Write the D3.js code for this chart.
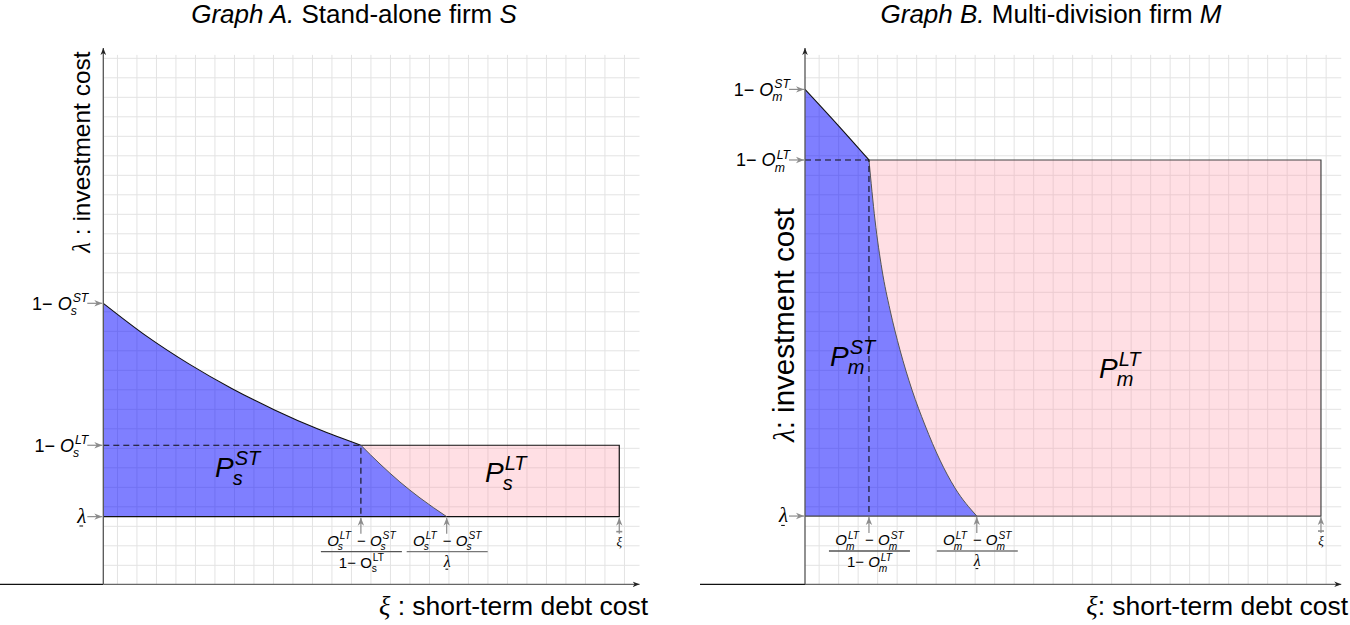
<!DOCTYPE html>
<html>
<head>
<meta charset="utf-8">
<script src="https://cdn.jsdelivr.net/npm/d3@7"></script>
<style>
  body { margin: 0; background: #fff; }
  svg { display: block; font-family: "Liberation Sans", Arial, Helvetica, sans-serif; }
  svg text { white-space: pre; }
  .grid line { stroke: #e3e3e3; stroke-width: 1; }
  .grid .domain { display: none; }
  .greek { font-family: "Liberation Serif", "DejaVu Serif", serif; font-style: italic; }
</style>
</head>
<body>
<div id="chart"></div>
<script>
// all values in grid steps, origin where the two axes cross
const xiBar = 26.46;

// [lambda, 1 - O^LT, 1 - O^ST]
const levelsS = [3.47, 7.13, 14.41];
const levelsM = [3.5, 21.76, 25.38];

// boundary of the P^ST region
const curveS_ST = [[0, 14.41], [2.2, 12.74], [4.41, 11.29], [6.61, 10.03], [8.81, 8.93], [11.01, 7.96], [13.21, 7.13]];
const curveS_LT = [[13.21, 7.13], [14.19, 6.17], [15.21, 5.25], [16.24, 4.43], [17.61, 3.47]];
const curveM_ST = [[0, 25.38], [1.64, 23.6], [3.28, 21.76]];
const curveM_LT = [[3.28, 21.76], [3.59, 18.68], [3.95, 16.12], [4.36, 14.07], [4.87, 12.02], [5.49, 9.96],
                   [6.15, 8.17], [6.92, 6.37], [7.69, 4.94], [8.81, 3.5]];

const titles = [["Graph A.", " Stand-alone firm ", "S"], ["Graph B.", " Multi-division firm ", "M"]];
const yTitles = [" : investment cost", ": investment cost"];
const xTitles = [" : short-term debt cost", ": short-term debt cost"];
const firmIdx = ["s", "m"];

const gridX = d3.range(0.7, 27, 1);
const gridY = d3.range(1, 28, 1);

const W = 1350, H = 625, UNIT = 19.5, BASE = 584.3, TOP = 27.5;
const NB = "\u00a0";

const svg = d3.select("#chart").append("svg")
    .attr("width", W).attr("height", H);

const defs = svg.append("defs");
function marker(id, color, size) {
    defs.append("marker")
        .attr("id", id)
        .attr("viewBox", "0 0 10 10")
        .attr("refX", 10).attr("refY", 5)
        .attr("markerWidth", size).attr("markerHeight", size)
        .attr("markerUnits", "userSpaceOnUse")
        .attr("orient", "auto")
        .append("path")
        .attr("d", "M0,1 L10,5 L0,9 L3,5 Z")
        .attr("fill", color);
}
marker("ah-black", "#222", 7);
marker("ah-gray", "#8c8c8c", 8);

// text with stacked super/subscripts, like O_s^ST
function mathText(g, x, y, parts, fs, anchor) {
    const grp = g.append("g");
    const small = fs * 0.68;
    let cx = 0;
    parts.forEach(p => {
        if (p.t) {
            const t = grp.append("text")
                .attr("x", cx).attr("y", 0)
                .attr("font-size", p.fs || fs)
                .attr("class", p.greek ? "greek" : null)
                .style("font-style", (p.it || p.greek) ? "italic" : "normal")
                .text(p.t);
            const w = t.node().getComputedTextLength();
            if (p.under) {
                grp.append("line")
                    .attr("x1", cx + w * 0.25).attr("x2", cx + w * 0.65)
                    .attr("y1", fs * 0.16).attr("y2", fs * 0.16)
                    .attr("stroke", "#000").attr("stroke-width", 1);
            }
            cx += w;
        }
        let w = 0;
        const st = p.upright ? "normal" : "italic";
        if (p.sup) {
            const s = grp.append("text")
                .attr("x", cx + 1).attr("y", -fs * 0.42)
                .attr("font-size", p.ss || small).style("font-style", st)
                .text(p.sup);
            w = Math.max(w, s.node().getComputedTextLength() + 1);
        }
        if (p.sub) {
            const s = grp.append("text")
                .attr("x", cx - (p.upright ? 0 : 1)).attr("y", fs * 0.3)
                .attr("font-size", p.ss || small).style("font-style", st)
                .text(p.sub);
            w = Math.max(w, s.node().getComputedTextLength());
        }
        cx += w + (p.gap || 0);
    });
    const dx = anchor === "end" ? -cx : anchor === "middle" ? -cx / 2 : 0;
    grp.attr("transform", "translate(" + (x + dx) + "," + y + ")");
    return cx;
}

function drawPanel(cfg) {
    const f = firmIdx[cfg.i];
    const levels = cfg.levels;
    const lam = levels[0], lt = levels[1];
    const kink = cfg.stCurve[cfg.stCurve.length - 1][0];
    const edge = cfg.ltCurve[cfg.ltCurve.length - 1][0];

    const x = d3.scaleLinear().domain([0, TOP]).range([cfg.ox, cfg.ox + TOP * UNIT]);
    const y = d3.scaleLinear().domain([0, TOP]).range([BASE, BASE - TOP * UNIT]);

    const g = svg.append("g");

    // grid
    g.append("g").attr("class", "grid")
        .attr("transform", "translate(0," + y(0) + ")")
        .call(d3.axisBottom(x).tickValues(gridX).tickFormat("").tickSizeOuter(0)
            .tickSize(-(y(0) - y(27.15))));
    g.append("g").attr("class", "grid")
        .attr("transform", "translate(" + x(0) + ",0)")
        .call(d3.axisLeft(y).tickValues(gridY).tickFormat("").tickSizeOuter(0)
            .tickSize(-(x(TOP) - x(0))));

    const line = d3.line().x(d => x(d[0])).y(d => y(d[1])).curve(d3.curveMonotoneX);

    // P^LT region: rectangle right of the lower boundary
    g.append("path")
        .attr("d", line(cfg.ltCurve) + "L" + x(xiBar) + "," + y(lam) + "L" + x(xiBar) + "," + y(lt) + "Z")
        .attr("fill", "rgb(255,150,165)").attr("fill-opacity", 0.3);

    // P^ST region
    g.append("path")
        .attr("d", line(cfg.stCurve) + line(cfg.ltCurve).replace(/^M/, "L") +
            "L" + x(0) + "," + y(lam) + "Z")
        .attr("fill", "#0000ff").attr("fill-opacity", 0.5);

    // rectangle outline and lambda line
    g.append("path")
        .attr("d", "M" + x(kink) + "," + y(lt) + "H" + x(xiBar) + "V" + y(lam) + "H" + x(0))
        .attr("fill", "none").attr("stroke", cfg.rectStroke).attr("stroke-width", 1.2);

    g.append("path").attr("d", line(cfg.stCurve))
        .attr("fill", "none").attr("stroke", "#111").attr("stroke-width", 1.1);
    g.append("path").attr("d", line(cfg.ltCurve))
        .attr("fill", "none").attr("stroke", "#555").attr("stroke-width", 1);

    // dashed guides through the kink
    g.append("path")
        .attr("d", "M" + x(0) + "," + y(lt) + "H" + x(kink) + "V" + y(lam))
        .attr("fill", "none").attr("stroke", "#111").attr("stroke-width", 1.1)
        .attr("stroke-dasharray", "6,4");

    // axes
    g.append("line")
        .attr("x1", cfg.leftEdge).attr("x2", x(0)).attr("y1", y(0)).attr("y2", y(0))
        .attr("stroke", "#111").attr("stroke-width", 1.3);
    g.append("line")
        .attr("x1", x(0)).attr("x2", x(TOP)).attr("y1", y(0)).attr("y2", y(0))
        .attr("stroke", "#666").attr("stroke-width", 1.3)
        .attr("marker-end", "url(#ah-black)");
    g.append("line")
        .attr("x1", x(0)).attr("x2", x(0)).attr("y1", y(0)).attr("y2", y(TOP))
        .attr("stroke", "#555").attr("stroke-width", 1.3)
        .attr("marker-end", "url(#ah-black)");

    // y markers
    const gray = "#8c8c8c";
    levels.forEach((v, k) => {
        g.append("line")
            .attr("x1", x(0) - 16).attr("x2", x(0) - 1).attr("y1", y(v)).attr("y2", y(v))
            .attr("stroke", gray).attr("stroke-width", 1.2)
            .attr("marker-end", "url(#ah-gray)");
        if (k === 0) {
            mathText(g, x(0) - 17, y(v) + 6, [{ t: "λ", greek: true, under: true }], 21, "end");
        } else {
            mathText(g, x(0) - 15, y(v) + 6.5,
                [{ t: "1−" + NB }, { t: "O", it: true, sup: k === 1 ? "LT" : "ST", sub: f }], 18, "end");
        }
    });

    // x markers
    [kink, edge, xiBar].forEach(v => {
        g.append("line")
            .attr("x1", x(v)).attr("x2", x(v)).attr("y1", y(lam) + 17).attr("y2", y(lam) + 1)
            .attr("stroke", gray).attr("stroke-width", 1.2)
            .attr("marker-end", "url(#ah-gray)");
    });
    g.append("line")
        .attr("x1", x(xiBar) - 3).attr("x2", x(xiBar) + 3)
        .attr("y1", y(lam) + 15).attr("y2", y(lam) + 15)
        .attr("stroke", gray).attr("stroke-width", 1.6);
    g.append("text").attr("class", "greek")
        .attr("x", x(xiBar)).attr("y", y(lam) + 29)
        .attr("text-anchor", "middle").attr("font-size", 13)
        .text("ξ");

    // fractions under the markers
    const num = [{ t: "O", it: true, sup: "LT", sub: f, gap: 6 }, { t: "−" + NB }, { t: "O", it: true, sup: "ST", sub: f }];
    const nb = y(lam) + 29, bar = y(lam) + 35, db = y(lam) + 51;
    [kink, edge].forEach((v, k) => {
        const cx = x(v) + 0.5;
        g.append("line")
            .attr("x1", cx - 40.5).attr("x2", cx + 40.5).attr("y1", bar).attr("y2", bar)
            .attr("stroke", k === 0 ? "#555" : "#777").attr("stroke-width", 1.4);
        mathText(g, cx, nb, num, 15, "middle");
        if (k === 0) {
            mathText(g, cx, db, [{ t: "1−" + NB }, { t: "O", it: cfg.i === 1, upright: cfg.i === 0, sup: "LT", sub: f }], 15, "middle");
        } else {
            mathText(g, cx, db - 1, [{ t: "λ", greek: true, under: true }], 16, "middle");
        }
    });

    // region labels
    mathText(g, cfg.pST[0], cfg.pST[1], [{ t: "P", it: true, sup: "ST", sub: f, ss: 20 }], 28, "start");
    mathText(g, cfg.pLT[0], cfg.pLT[1], [{ t: "P", it: true, sup: "LT", sub: f, ss: 20 }], 28, "start");

    // titles
    const t = titles[cfg.i];
    const tt = svg.append("text")
        .attr("x", cfg.titleX).attr("y", 23)
        .attr("text-anchor", "middle").attr("font-size", 26);
    tt.append("tspan").style("font-style", "italic").text(t[0]);
    tt.append("tspan").text(t[1]);
    tt.append("tspan").style("font-style", "italic").text(t[2]);

    const yl = svg.append("text")
        .attr("transform", "translate(" + cfg.yLab[0] + "," + cfg.yLab[1] + ") rotate(-90)")
        .attr("text-anchor", "middle").attr("font-size", cfg.yLab[2]);
    yl.append("tspan").attr("class", "greek").text("λ");
    yl.append("tspan").text(yTitles[cfg.i]);

    const xl = svg.append("text")
        .attr("x", cfg.xLab[0]).attr("y", cfg.xLab[1])
        .attr("text-anchor", "end").attr("font-size", 26.5);
    xl.append("tspan").attr("class", "greek").text("ξ");
    xl.append("tspan").text(xTitles[cfg.i]);
}

drawPanel({
    i: 0, ox: 103.3, leftEdge: 0, levels: levelsS,
    stCurve: curveS_ST, ltCurve: curveS_LT, rectStroke: "#111",
    pST: [215, 477], pLT: [485, 482],
    titleX: 354, yLab: [90, 152, 24.5], xLab: [648, 615]
});
drawPanel({
    i: 1, ox: 805, leftEdge: 700, levels: levelsM,
    stCurve: curveM_ST, ltCurve: curveM_LT, rectStroke: "#444",
    pST: [830, 366], pLT: [1099, 378],
    titleX: 1051, yLab: [794, 325, 29.5], xLab: [1348, 615]
});
</script>
</body>
</html>
